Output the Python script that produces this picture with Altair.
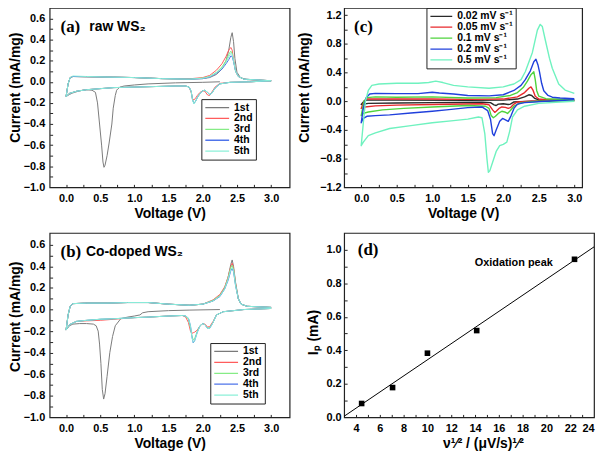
import altair as alt
import pandas as pd

FONT = "Liberation Sans"
SERIF = "Liberation Serif"

CYCLES = ["1st", "2nd", "3rd", "4th", "5th"]
CYCLE_COLORS = ["#7a7a7a", "#ff5c5c", "#86ec86", "#4f74ea", "#8cf0d8"]
RATES = ["0.02 mV s⁻¹", "0.05 mV s⁻¹", "0.1 mV s⁻¹", "0.2 mV s⁻¹", "0.5 mV s⁻¹"]
RATE_COLORS = ["#2a2a2a", "#e8282c", "#4fd33c", "#2040dc", "#6ff2bf"]

# ---------------- panel (a): raw WS2 ----------------
A1_V = [2.25, 2.0, 1.6, 1.2, 1.0, 0.85, 0.79, 0.76, 0.74, 0.72, 0.69, 0.67, 0.63, 0.60, 0.57, 0.555, 0.54, 0.52, 0.49,
        0.46, 0.43, 0.38, 0.30, 0.20, 0.10, 0.05, 0.0,
        0.03, 0.06, 0.1, 0.3, 0.6, 1.0, 1.4, 1.8, 2.0, 2.1, 2.2, 2.28, 2.34, 2.38, 2.41, 2.43, 2.45, 2.47, 2.5, 2.55,
        2.65, 3.0]
A1_I = [0.0, -0.005, -0.01, -0.02, -0.03, -0.04, -0.05, -0.065, -0.08, -0.13, -0.25, -0.40, -0.58, -0.70, -0.79, -0.81,
        -0.76, -0.60, -0.40, -0.20, -0.10, -0.08, -0.075, -0.085, -0.105, -0.12, -0.14,
        -0.02, 0.04, 0.05, 0.048, 0.045, 0.04, 0.03, 0.025, 0.03, 0.04, 0.07, 0.12, 0.2, 0.3, 0.42, 0.465, 0.38, 0.22,
        0.09, 0.04, 0.02, 0.01]
A_V = [3.0, 2.7, 2.4, 2.25, 2.18, 2.13, 2.10, 2.07, 2.03, 2.00, 1.96, 1.92, 1.89, 1.87, 1.85, 1.83, 1.80, 1.75, 1.6,
       1.3, 1.0, 0.7, 0.5, 0.3, 0.15, 0.05, 0.0,
       0.03, 0.06, 0.1, 0.3, 0.6, 1.0, 1.4, 1.8, 2.0, 2.1, 2.2, 2.28, 2.34, 2.38, 2.41, 2.43, 2.45, 2.48, 2.52, 2.6, 3.0]
A2_I = [0.01, 0.0, -0.005, -0.015, -0.05, -0.10, -0.13, -0.125, -0.09, -0.085, -0.10, -0.13, -0.16, -0.17, -0.16,
        -0.10, -0.05, -0.04, -0.04, -0.045, -0.05, -0.055, -0.065, -0.075, -0.09, -0.11, -0.14,
        -0.02, 0.04, 0.05, 0.048, 0.045, 0.04, 0.03, 0.028, 0.04, 0.06, 0.11, 0.17, 0.24, 0.30, 0.325, 0.30, 0.21, 0.10,
        0.05, 0.025, 0.01]
A3_I = [0.01, 0.0, -0.005, -0.02, -0.06, -0.11, -0.12, -0.10, -0.08, -0.085, -0.11, -0.15, -0.19, -0.20, -0.17,
        -0.09, -0.05, -0.04, -0.04, -0.045, -0.05, -0.055, -0.065, -0.075, -0.09, -0.11, -0.14,
        -0.02, 0.04, 0.05, 0.048, 0.045, 0.04, 0.03, 0.025, 0.035, 0.05, 0.09, 0.14, 0.20, 0.26, 0.29, 0.27, 0.20, 0.10,
        0.05, 0.025, 0.01]
A4_I = [0.01, 0.0, -0.005, -0.02, -0.06, -0.11, -0.12, -0.10, -0.08, -0.085, -0.11, -0.15, -0.19, -0.205, -0.17,
        -0.09, -0.05, -0.04, -0.04, -0.045, -0.05, -0.055, -0.065, -0.075, -0.09, -0.11, -0.14,
        -0.02, 0.04, 0.05, 0.048, 0.045, 0.04, 0.03, 0.025, 0.03, 0.045, 0.08, 0.12, 0.17, 0.21, 0.245, 0.24, 0.19, 0.10,
        0.05, 0.025, 0.01]
A5_I = [0.01, 0.0, -0.005, -0.02, -0.06, -0.11, -0.12, -0.10, -0.08, -0.085, -0.11, -0.15, -0.19, -0.21, -0.17,
        -0.09, -0.05, -0.04, -0.04, -0.045, -0.05, -0.055, -0.065, -0.075, -0.09, -0.11, -0.14,
        -0.02, 0.04, 0.055, 0.05, 0.045, 0.04, 0.03, 0.025, 0.033, 0.048, 0.085, 0.13, 0.185, 0.235, 0.27, 0.26, 0.2,
        0.10, 0.05, 0.025, 0.01]

# ---------------- panel (b): Co-doped WS2 ----------------
B1_V = [2.25, 1.8, 1.5, 1.2, 1.12, 1.08, 1.0, 0.9, 0.8, 0.72, 0.68, 0.64, 0.60, 0.57, 0.55, 0.53, 0.51, 0.49, 0.47,
        0.44, 0.40, 0.3, 0.2, 0.1, 0.05, 0.0,
        0.03, 0.06, 0.1, 0.3, 0.6, 0.9, 1.2, 1.5, 1.8, 2.0, 2.15, 2.25, 2.32, 2.37, 2.41, 2.43, 2.45, 2.48, 2.52, 2.56,
        2.65, 3.0]
B1_I = [0.0, -0.005, -0.01, -0.02, -0.03, -0.05, -0.06, -0.07, -0.085, -0.15, -0.25, -0.40, -0.62, -0.78, -0.83, -0.74,
        -0.50, -0.32, -0.20, -0.15, -0.135, -0.13, -0.13, -0.135, -0.15, -0.19,
        -0.05, 0.03, 0.055, 0.06, 0.06, 0.065, 0.065, 0.05, 0.04, 0.05, 0.08, 0.13, 0.2, 0.3, 0.42, 0.46, 0.4, 0.25, 0.1,
        0.05, 0.03, 0.02]
B_V = [3.0, 2.6, 2.3, 2.2, 2.15, 2.1, 2.07, 2.03, 2.0, 1.96, 1.92, 1.88, 1.86, 1.84, 1.82, 1.79, 1.75, 1.7, 1.5, 1.2,
       1.0, 0.7, 0.5, 0.3, 0.15, 0.05, 0.0,
       0.03, 0.06, 0.1, 0.3, 0.6, 0.9, 1.2, 1.5, 1.8, 2.0, 2.15, 2.25, 2.32, 2.37, 2.41, 2.43, 2.45, 2.48, 2.52, 2.56,
       2.65, 3.0]
B2_I = [0.01, 0.0, -0.02, -0.05, -0.11, -0.16, -0.16, -0.135, -0.13, -0.15, -0.19, -0.21, -0.215, -0.22, -0.2, -0.12,
        -0.07, -0.055, -0.06, -0.07, -0.075, -0.09, -0.1, -0.105, -0.11, -0.14, -0.19,
        -0.05, 0.03, 0.055, 0.06, 0.06, 0.065, 0.065, 0.05, 0.04, 0.05, 0.09, 0.14, 0.21, 0.3, 0.4, 0.43, 0.38, 0.24, 0.1,
        0.05, 0.03, 0.02]
B3_I = [0.01, 0.0, -0.02, -0.05, -0.12, -0.17, -0.17, -0.14, -0.13, -0.15, -0.2, -0.27, -0.28, -0.24, -0.17, -0.09,
        -0.06, -0.055, -0.06, -0.07, -0.075, -0.085, -0.09, -0.1, -0.11, -0.14, -0.19,
        -0.05, 0.03, 0.055, 0.06, 0.06, 0.065, 0.065, 0.05, 0.04, 0.05, 0.085, 0.13, 0.2, 0.29, 0.39, 0.41, 0.37, 0.23,
        0.1, 0.05, 0.03, 0.02]
B4_I = [0.01, 0.0, -0.02, -0.05, -0.12, -0.175, -0.175, -0.14, -0.13, -0.15, -0.21, -0.29, -0.31, -0.25, -0.15, -0.08,
        -0.06, -0.055, -0.06, -0.07, -0.075, -0.085, -0.09, -0.1, -0.11, -0.14, -0.19,
        -0.05, 0.03, 0.055, 0.06, 0.06, 0.065, 0.065, 0.05, 0.04, 0.05, 0.08, 0.12, 0.19, 0.27, 0.36, 0.38, 0.35, 0.22,
        0.1, 0.05, 0.03, 0.02]
B5_I = [0.01, 0.0, -0.02, -0.05, -0.12, -0.175, -0.175, -0.14, -0.13, -0.15, -0.21, -0.29, -0.305, -0.25, -0.15, -0.08,
        -0.06, -0.055, -0.06, -0.07, -0.075, -0.085, -0.09, -0.1, -0.11, -0.14, -0.19,
        -0.05, 0.03, 0.055, 0.06, 0.06, 0.065, 0.065, 0.05, 0.04, 0.05, 0.08, 0.125, 0.19, 0.28, 0.37, 0.39, 0.36, 0.22,
        0.1, 0.05, 0.03, 0.02]

# ---------------- panel (c): scan rates ----------------
C1_V = [3.0, 2.4, 2.15, 2.1, 2.07, 2.0, 1.93, 1.9, 1.87, 1.82, 1.7, 1.0, 0.5, 0.1, 0.0,
        0.04, 0.08, 0.5, 1.5, 2.0, 2.2, 2.3, 2.36, 2.4, 2.44, 2.5, 3.0]
C1_I = [0.01, 0.0, -0.01, -0.04, -0.045, -0.035, -0.04, -0.06, -0.05, -0.02, -0.015, -0.02, -0.025, -0.03, -0.045,
        0.0, 0.015, 0.015, 0.012, 0.015, 0.03, 0.06, 0.09, 0.08, 0.04, 0.02, 0.01]
C2_V = [3.0, 2.4, 2.2, 2.15, 2.1, 2.07, 2.03, 1.98, 1.94, 1.9, 1.88, 1.85, 1.8, 1.7, 1.0, 0.5, 0.2, 0.05, 0.0,
        0.04, 0.08, 0.3, 1.0, 1.5, 2.0, 2.2, 2.3, 2.36, 2.39, 2.42, 2.45, 2.5, 2.6, 3.0]
C2_I = [0.01, 0.0, -0.01, -0.04, -0.09, -0.1, -0.085, -0.08, -0.1, -0.14, -0.155, -0.12, -0.05, -0.035, -0.045, -0.055,
        -0.065, -0.08, -0.1,
        0.0, 0.03, 0.03, 0.03, 0.025, 0.03, 0.06, 0.12, 0.18, 0.2, 0.15, 0.07, 0.03, 0.02, 0.015]
C3_V = [3.0, 2.5, 2.25, 2.15, 2.1, 2.06, 2.02, 1.98, 1.93, 1.89, 1.86, 1.83, 1.8, 1.75, 1.5, 1.0, 0.6, 0.3, 0.1, 0.03,
        0.0,
        0.04, 0.08, 0.2, 0.5, 1.0, 1.5, 1.9, 2.1, 2.2, 2.28, 2.34, 2.39, 2.43, 2.45, 2.47, 2.5, 2.6, 3.0]
C3_I = [0.01, 0.0, -0.02, -0.07, -0.13, -0.17, -0.15, -0.14, -0.17, -0.21, -0.23, -0.2, -0.1, -0.07, -0.06, -0.08, -0.1,
        -0.12, -0.15, -0.17, -0.2,
        0.0, 0.05, 0.06, 0.055, 0.06, 0.045, 0.05, 0.08, 0.12, 0.19, 0.28, 0.37, 0.41, 0.3, 0.15, 0.07, 0.035, 0.02]
C4_V = [3.0, 2.6, 2.3, 2.2, 2.15, 2.11, 2.07, 2.03, 1.99, 1.95, 1.9, 1.87, 1.85, 1.82, 1.78, 1.7, 1.5, 1.2, 1.0, 0.7,
        0.4, 0.2, 0.08, 0.03, 0.0,
        0.03, 0.07, 0.12, 0.2, 0.5, 0.8, 1.0, 1.1, 1.3, 1.5, 1.8, 2.0, 2.15, 2.25, 2.31, 2.38, 2.43, 2.46, 2.49, 2.51,
        2.54, 2.57, 2.63, 2.69, 2.8, 3.0]
C4_I = [0.02, 0.0, -0.02, -0.04, -0.1, -0.2, -0.28, -0.26, -0.24, -0.28, -0.4, -0.48, -0.45, -0.25, -0.13, -0.08,
        -0.09, -0.12, -0.14, -0.165, -0.19, -0.2, -0.21, -0.24, -0.3,
        -0.1, 0.05, 0.1, 0.11, 0.105, 0.105, 0.125, 0.115, 0.1, 0.08, 0.075, 0.09, 0.15, 0.22, 0.3, 0.42, 0.55, 0.585,
        0.5, 0.41, 0.25, 0.145, 0.08, 0.056, 0.045, 0.035]
C5_V = [3.0, 2.8, 2.5, 2.3, 2.2, 2.13, 2.09, 2.05, 2.0, 1.95, 1.9, 1.85, 1.81, 1.79, 1.77, 1.74, 1.70, 1.65, 1.5, 1.3,
        1.0, 0.7, 0.4, 0.2, 0.1, 0.03, 0.0,
        0.03, 0.06, 0.1, 0.15, 0.25, 0.5, 0.8, 0.95, 1.05, 1.15, 1.3, 1.5, 1.8, 2.0, 2.15, 2.25, 2.31, 2.41, 2.48, 2.52,
        2.55, 2.59, 2.65, 2.69, 2.78, 2.87, 3.0]
C5_I = [0.0, -0.01, -0.03, -0.07, -0.12, -0.22, -0.42, -0.57, -0.6, -0.62, -0.7, -0.85, -0.97, -0.99, -0.8, -0.45,
        -0.23, -0.22, -0.25, -0.27, -0.3, -0.34, -0.38, -0.44, -0.48, -0.57, -0.62,
        -0.3, 0.0, 0.15, 0.22, 0.24, 0.25, 0.25, 0.26, 0.28, 0.26, 0.22, 0.2, 0.18, 0.2, 0.24, 0.3, 0.41, 0.68, 0.99,
        1.07, 1.04, 0.86, 0.6, 0.46, 0.24, 0.155, 0.11]

# ---------------- panel (d): oxidation peak current ----------------
D_X = [4.47, 7.07, 10.0, 14.14, 22.36]
D_Y = [0.083, 0.178, 0.383, 0.518, 0.943]


def loops(pairs, names):
    frames = []
    for (v, i), n in zip(pairs, names):
        frames.append(pd.DataFrame({"V": v, "I": i, "s": n, "k": list(range(len(v)))}))
    return pd.concat(frames, ignore_index=True)


df_a = loops([(A1_V, A1_I), (A_V, A2_I), (A_V, A3_I), (A_V, A4_I), (A_V, A5_I)], CYCLES)
df_b = loops([(B1_V, B1_I), (B_V, B2_I), (B_V, B3_I), (B_V, B4_I), (B_V, B5_I)], CYCLES)
df_c = loops([(C1_V, C1_I), (C2_V, C2_I), (C3_V, C3_I), (C4_V, C4_I), (C5_V, C5_I)], RATES)
df_d = pd.DataFrame({"x": D_X, "y": D_Y})

XMAJ = [0.0, 0.5, 1.0, 1.5, 2.0, 2.5, 3.0]
XMIN = [k * 0.25 for k in range(13)]


def tick_layer(df, xf, yf, xt, yt):
    return alt.Chart(df).mark_point(opacity=0).encode(
        x=alt.X(xf, axis=alt.Axis(orient="bottom", offset=-3, tickSize=3, labels=False, title=None,
                                  values=xt, domain=False, grid=False)),
        y=alt.Y(yf, axis=alt.Axis(orient="left", offset=-3, tickSize=3, labels=False, title=None,
                                  values=yt, domain=False, grid=False)),
    )


def notes_layer(rows, font, size, align="left"):
    d = pd.DataFrame(rows, columns=["x", "y", "t"])
    return alt.Chart(d).mark_text(font=font, fontSize=size, fontWeight="bold", align=align,
                                  baseline="middle", color="black").encode(
        x=alt.X("x:Q", axis=None), y=alt.Y("y:Q", axis=None), text="t:N")


def cv_panel(df, names, colors, xdom, ydom, ymaj, ymin, w, h, lx, ly, symlen, lfs, lpad, tpad, ty, sw, tag, label):
    lines = alt.Chart(df).mark_line(strokeWidth=sw, strokeJoin="round").encode(
        x=alt.X("V:Q", scale=alt.Scale(domain=xdom, nice=False, zero=False),
                axis=alt.Axis(orient="bottom", title="Voltage (V)", values=XMAJ, format=".1f", ticks=False,
                              labelPadding=5, titlePadding=3)),
        y=alt.Y("I:Q", scale=alt.Scale(domain=ydom, nice=False, zero=False),
                axis=alt.Axis(orient="left", title="Current (mA/mg)", values=ymaj, format=".1f", ticks=False,
                              labelPadding=lpad, titlePadding=tpad, titleY=ty)),
        color=alt.Color("s:N", sort=names, scale=alt.Scale(domain=names, range=colors),
                        legend=alt.Legend(orient="none", legendX=lx, legendY=ly, title=None, strokeColor="#222",
                                          fillColor="white", padding=3, symbolType="stroke",
                                          symbolSize=symlen * symlen, symbolStrokeWidth=1.3, clipHeight=11,
                                          labelFont=FONT, labelFontWeight="bold", labelFontSize=lfs,
                                          labelColor="black", rowPadding=0, labelOffset=4)),
        order="k:Q",
    )
    ticks = tick_layer(df, "V:Q", "I:Q", XMIN, ymin)
    txt1 = notes_layer([tag], SERIF, 17)
    txt2 = notes_layer([label], FONT, 14) if label else None
    layers = [ticks, lines, txt1] + ([txt2] if txt2 is not None else [])
    return alt.layer(*layers).resolve_axis(x="independent", y="independent").properties(width=w, height=h)


YAB_MAJ = [round(-1.0 + 0.2 * k, 1) for k in range(9)]
YAB_MIN = [round(-0.9 + 0.1 * k, 1) for k in range(16)]
YC_MAJ = [round(-1.2 + 0.4 * k, 1) for k in range(7)]
YC_MIN = [round(-1.0 + 0.2 * k, 1) for k in range(12)]

pa = cv_panel(df_a, CYCLES, CYCLE_COLORS, [-0.24, 3.27], [-1.0, 0.7], YAB_MAJ, YAB_MIN, 242, 181,
              153, 92, 24, 10.5, 5, 1, 80, 1, (-0.08, 0.52, "(a)"), (0.34, 0.52, "raw WS₂"))
pb = cv_panel(df_b, CYCLES, CYCLE_COLORS, [-0.24, 3.27], [-1.0, 0.71], YAB_MAJ, YAB_MIN, 242, 186,
              162, 111, 24, 10.5, 5, 1, 84, 1, (-0.08, 0.53, "(b)"), (0.29, 0.53, "Co-doped WS₂"))
pc = cv_panel(df_c, RATES, RATE_COLORS, [-0.24, 3.11], [-1.2, 1.3], YC_MAJ, YC_MIN, 240, 181,
              83, 0, 22, 10.5, 3, 8, 80, 1.4, (-0.1, 1.03, "(c)"), None)

d_pts = alt.Chart(df_d).mark_square(size=32, color="black", opacity=1).encode(
    x=alt.X("x:Q", scale=alt.Scale(domain=[3, 24], nice=False, zero=False),
            axis=alt.Axis(orient="bottom", title="ν¹⁄² / (μV/s)¹⁄²", values=list(range(4, 25, 2)), format="d",
                          ticks=False, labelPadding=5, titlePadding=3, titleX=140)),
    y=alt.Y("y:Q", scale=alt.Scale(domain=[0, 1.1], nice=False, zero=False),
            axis=alt.Axis(orient="left", title="Iₚ (mA)", values=[0.0, 0.2, 0.4, 0.6, 0.8, 1.0], format=".1f",
                          ticks=False, labelPadding=3, titlePadding=6, titleY=100)),
)
d_fit = alt.Chart(df_d).transform_regression("x", "y", extent=[3, 24]).mark_line(
    color="black", strokeWidth=1).encode(x=alt.X("x:Q", axis=None), y=alt.Y("y:Q", axis=None))
d_ticks = tick_layer(df_d, "x:Q", "y:Q", list(range(4, 24)), [round(0.1 * k, 1) for k in range(1, 11)])
pd_ = alt.layer(d_ticks, d_fit, d_pts,
                notes_layer([(4.15, 1.0, "(d)")], SERIF, 17),
                notes_layer([(17.25, 0.92, "Oxidation peak")], FONT, 11, "center"),
                ).resolve_axis(x="independent", y="independent").properties(width=252, height=186)

chart = alt.concat(pa, pc, pb, pd_, columns=2, spacing={"row": 46, "column": 55}, bounds="flush").resolve_scale(
    color="independent").properties(
    padding={"left": -1, "top": -4, "right": 0, "bottom": 0}
).configure_view(stroke="#222", strokeWidth=1.2).configure_axis(
    labelFont=FONT, labelFontWeight="bold", labelFontSize=11, labelColor="black",
    titleFont=FONT, titleFontWeight="bold", titleFontSize=14, titleColor="black",
    tickColor="#222", grid=False, domain=False, minExtent=0,
)

chart.save("out.html", embed_options={"renderer": "svg", "actions": False})
